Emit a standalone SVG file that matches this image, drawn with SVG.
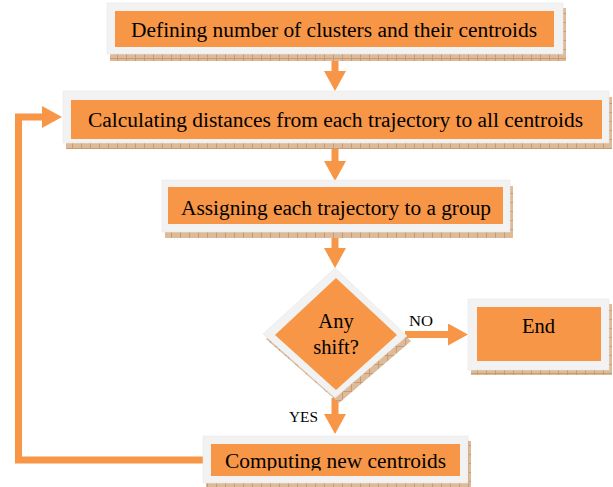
<svg xmlns="http://www.w3.org/2000/svg" width="613" height="487" viewBox="0 0 613 487">
<style>
.frame{fill:#F2F2F2;stroke:#E6E6E6;stroke-width:0.6}
.box{fill:#F79646}
.shadow{fill:url(#hatch)}
.lbl{font-family:'Liberation Serif','Times New Roman',Times,serif;font-size:20.5px;fill:#000;text-anchor:middle}
.small{font-family:'Liberation Serif','Times New Roman',Times,serif;font-size:15px;fill:#000}
.conn{fill:none;stroke:#F79646;stroke-width:7}
</style>
<defs>
<pattern id="hatch" patternUnits="userSpaceOnUse" width="9" height="9">
<rect width="9" height="9" fill="#DDBA98"/>
<path d="M0,0V9" stroke="#B07A52" stroke-width="1"/>
<path d="M0,4.5H9" stroke="#C99A74" stroke-width="1"/>
</pattern>
<marker id="ah" markerUnits="userSpaceOnUse" markerWidth="20" markerHeight="22" viewBox="0 0 20 22" refX="0" refY="11" orient="auto">
<path d="M0,0L20,11L0,22z" fill="#F79646"/>
</marker>
<clipPath id="clip5"><rect x="200" y="430" width="280" height="40.5"/></clipPath>
</defs>

<g id="connectors">
<path class="conn" d="M335,58V71" marker-end="url(#ah)"/>
<path class="conn" d="M335,146V161" marker-end="url(#ah)"/>
<path class="conn" d="M335,236V248" marker-end="url(#ah)"/>
<path class="conn" d="M405,334.5H448" marker-end="url(#ah)"/>
<path class="conn" d="M335,398V414" marker-end="url(#ah)"/>
<path class="conn" d="M205,460H18.5V117H42" marker-end="url(#ah)"/>
<text class="small" x="409" y="326" textLength="24" lengthAdjust="spacingAndGlyphs">NO</text>
<text class="small" x="289" y="422" textLength="29" lengthAdjust="spacingAndGlyphs">YES</text>
</g>

<g id="node1">
<rect class="shadow" x="110" y="8" width="456" height="53"/>
<rect class="frame" x="107" y="3" width="456" height="51"/>
<rect class="box" x="115" y="11" width="439" height="36"/>
<text class="lbl" x="334" y="37" textLength="406" lengthAdjust="spacingAndGlyphs">Defining number of clusters and their centroids</text>
</g>

<g id="node2">
<rect class="shadow" x="66" y="97" width="546" height="52"/>
<rect class="frame" x="63" y="91" width="546" height="52"/>
<rect class="box" x="71" y="100" width="531" height="39"/>
<text class="lbl" x="335.5" y="127" textLength="495" lengthAdjust="spacingAndGlyphs">Calculating distances from each trajectory to all centroids</text>
</g>

<g id="node3">
<rect class="shadow" x="165" y="186" width="348" height="52"/>
<rect class="frame" x="162" y="180" width="348" height="52"/>
<rect class="box" x="168" y="187" width="335" height="37"/>
<text class="lbl" x="336" y="215" textLength="310" lengthAdjust="spacingAndGlyphs">Assigning each trajectory to a group</text>
</g>

<g id="decision">
<polygon class="shadow" points="339,273 411,341 339,403 266,339"/>
<polygon class="frame" points="335,268 407,336 335,398 263,334"/>
<polygon class="box" points="336,278 397,335 336,390 275,335"/>
<text class="lbl" x="336" y="328">Any</text>
<text class="lbl" x="336" y="354">shift?</text>
</g>

<g id="end">
<rect class="shadow" x="471" y="304" width="141" height="71"/>
<rect class="frame" x="468" y="299" width="141" height="71"/>
<rect class="box" x="477" y="307" width="124" height="54"/>
<text class="lbl" x="538.5" y="333">End</text>
</g>

<g id="node5">
<rect class="shadow" x="206" y="441" width="265" height="46"/>
<rect class="frame" x="203" y="436" width="265" height="47"/>
<rect class="box" x="211" y="444" width="249" height="32"/>
<text class="lbl" x="335.5" y="468" textLength="221" lengthAdjust="spacingAndGlyphs" clip-path="url(#clip5)">Computing new centroids</text>
</g>
</svg>
